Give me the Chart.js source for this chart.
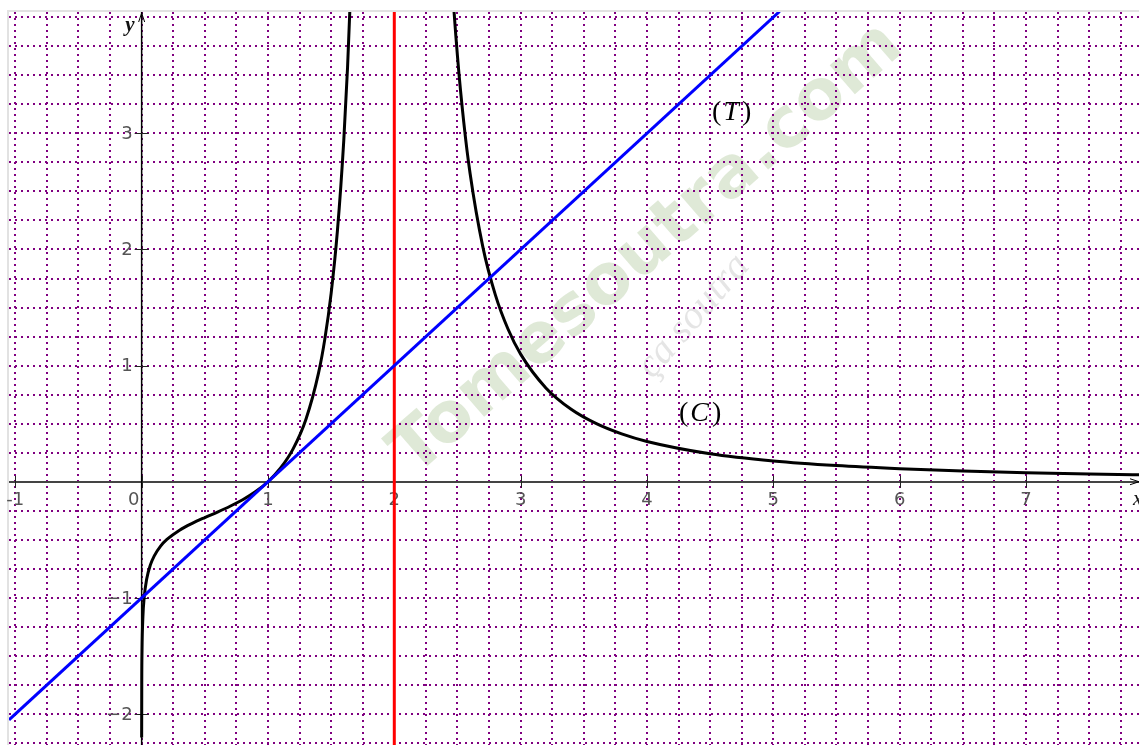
<!DOCTYPE html>
<html>
<head>
<meta charset="utf-8">
<script src="https://cdn.jsdelivr.net/npm/chart.js@4.4.1/dist/chart.umd.min.js"></script>
<style>
html,body{margin:0;padding:0;background:#fff;}
#wrap{position:relative;width:1139px;height:745px;}
</style>
</head>
<body>
<div id="wrap"><canvas id="c" width="1139" height="745"></canvas></div>
<script>
// ---- data ----
const curveLeftX  = [0.00015, 0.001, 0.003, 0.01, 0.02, 0.04, 0.07, 0.1, 0.15, 0.2, 0.3, 0.4, 0.5, 0.6, 0.7, 0.8, 0.9, 1.0, 1.1, 1.2, 1.3, 1.4, 1.45, 1.5, 1.55, 1.6, 1.63, 1.66, 1.7];
const curveLeftY  = [-2.202, -1.729, -1.457, -1.163, -0.998, -0.838, -0.714, -0.638, -0.554, -0.497, -0.417, -0.358, -0.308, -0.261, -0.211, -0.155, -0.087, 0, 0.118, 0.285, 0.536, 0.935, 1.228, 1.622, 2.164, 2.938, 3.569, 4.384, 5.896];
const curveRightX = [2.4, 2.45, 2.5, 2.55, 2.6, 2.7, 2.8, 2.9, 3.0, 3.2, 3.4, 3.6, 3.8, 4.0, 4.5, 5.0, 5.5, 6.0, 6.5, 7.0, 7.5, 8.0];
const curveRightY = [5.472, 4.425, 3.665, 3.095, 2.654, 2.027, 1.609, 1.315, 1.099, 0.808, 0.624, 0.500, 0.412, 0.347, 0.241, 0.179, 0.139, 0.112, 0.092, 0.078, 0.067, 0.058];
const tangentX    = [-1.05, 5.05];
const tangentY    = [-2.05, 4.05];
const asymptoteX  = [2, 2];
const asymptoteY  = [-2.3, 4.1];
const xTickValues = [-1, 0, 1, 2, 3, 4, 5, 6, 7];
const xTickLabels = ["-1", "0", "1", "2", "3", "4", "5", "6", "7"];
const yTickValues = [-2, -1, 1, 2, 3];
const yTickLabels = ["\u22122", "\u22121", "1", "2", "3"];
const xRange = [-1.05, 7.895];
const yRange = [-2.267, 4.045];
const gridStep = 0.25;

function pts(xs, ys){ return xs.map((x,i)=>({x:x, y:ys[i]})); }
function gridTicks(min, max){
  const out = [];
  for (let k = Math.ceil(min/gridStep); k*gridStep <= max; k++) out.push({value: k*gridStep});
  return out;
}

const watermark = {
  id: 'watermark',
  beforeDraw(chart){
    const ctx = chart.ctx;
    ctx.save();
    ctx.fillStyle = '#ffffff';
    ctx.fillRect(0,0,chart.width,chart.height);
    // frame
    ctx.fillStyle = '#e2e2e2';
    ctx.fillRect(7, 10, 2, chart.height-10);
    ctx.fillRect(7, 10, chart.width-7, 2);
    // watermark
    ctx.translate(648, 250);
    ctx.rotate(-41*Math.PI/180);
    ctx.font = 'bold 70px "DejaVu Sans", "Liberation Sans", sans-serif';
    ctx.textAlign = 'center';
    ctx.textBaseline = 'middle';
    ctx.fillStyle = 'rgba(165,195,145,0.36)';
    ctx.fillText('Tomesoutra.com', 0, 0);
    ctx.rotate(-8*Math.PI/180);
    ctx.font = 'italic 40px "Liberation Serif", serif';
    ctx.fillStyle = 'rgba(160,160,160,0.28)';
    ctx.fillText('\u00e7a soutra', -20, 78);
    ctx.restore();
  }
};

const axesPlugin = {
  id: 'axesPlugin',
  beforeDatasetsDraw(chart){
    const ctx = chart.ctx, xs = chart.scales.x, ys = chart.scales.y, a = chart.chartArea;
    const x0 = xs.getPixelForValue(0), y0 = ys.getPixelForValue(0);
    ctx.save();
    // x axis
    ctx.strokeStyle = '#444';
    ctx.lineWidth = 2;
    ctx.beginPath(); ctx.moveTo(a.left, Math.round(y0)); ctx.lineTo(a.right, Math.round(y0)); ctx.stroke();
    // y axis
    ctx.strokeStyle = '#000';
    ctx.lineWidth = 1.5;
    ctx.beginPath(); ctx.moveTo(x0, a.top); ctx.lineTo(x0, a.bottom); ctx.stroke();
    // arrows
    ctx.lineWidth = 1;
    ctx.beginPath(); ctx.moveTo(x0-3, a.top+10); ctx.lineTo(x0, a.top+1); ctx.lineTo(x0+3, a.top+10); ctx.stroke();
    ctx.beginPath(); ctx.moveTo(a.right-9, y0-3); ctx.lineTo(a.right, y0); ctx.lineTo(a.right-9, y0+3); ctx.stroke();
    // ticks
    ctx.strokeStyle = '#222';
    ctx.lineWidth = 1;
    xTickValues.forEach(v => {
      const px = Math.round(xs.getPixelForValue(v)) + 0.5;
      ctx.beginPath(); ctx.moveTo(px, y0-6); ctx.lineTo(px, y0+6); ctx.stroke();
    });
    yTickValues.forEach(v => {
      const py = Math.round(ys.getPixelForValue(v)) + 0.5;
      ctx.beginPath(); ctx.moveTo(x0-7, py); ctx.lineTo(x0+7, py); ctx.stroke();
    });
    // labels
    ctx.fillStyle = '#555';
    ctx.font = '18px "DejaVu Sans", sans-serif';
    ctx.textBaseline = 'alphabetic';
    ctx.textAlign = 'center';
    xTickValues.forEach((v,i) => {
      let px = xs.getPixelForValue(v);
      if (v === 0) px -= 8;
      ctx.fillText(xTickLabels[i], px, y0 + 23);
    });
    ctx.textAlign = 'right';
    ctx.textBaseline = 'middle';
    yTickValues.forEach((v,i) => {
      ctx.fillText(yTickLabels[i], x0 - 9, ys.getPixelForValue(v) + 1);
    });
    // axis names
    ctx.fillStyle = '#111';
    ctx.font = 'bold italic 21px "Liberation Serif", serif';
    ctx.textAlign = 'right';
    ctx.textBaseline = 'alphabetic';
    ctx.fillText('y', x0 - 7, a.top + 19);
    ctx.textAlign = 'left';
    ctx.font = 'italic 21px "Liberation Serif", serif';
    ctx.fillText('x', a.right - 6, y0 + 23);
    ctx.restore();
  },
  afterDatasetsDraw(chart){
    const ctx = chart.ctx;
    ctx.save();
    ctx.fillStyle = '#000';
    ctx.textBaseline = 'alphabetic';
    ctx.textAlign = 'left';
    function lab(letter, x, y){
      ctx.font = '28px "Liberation Serif", serif';
      ctx.fillText('(', x, y);
      let w = ctx.measureText('(').width + 2;
      ctx.font = 'italic 28px "Liberation Serif", serif';
      ctx.fillText(letter, x + w, y);
      w += ctx.measureText(letter).width + 3;
      ctx.font = '28px "Liberation Serif", serif';
      ctx.fillText(')', x + w, y);
    }
    lab('T', 712, 120);
    lab('C', 679, 421);
    ctx.restore();
  }
};

const gridOpts = { color: '#800080', lineWidth: 2, drawTicks: false };
new Chart(document.getElementById('c'), {
  type: 'scatter',
  data: {
    datasets: [
      { data: pts(tangentX, tangentY), showLine: true, borderColor: '#0000ff', borderWidth: 3, pointRadius: 0, order: 0 },
      { data: pts(curveLeftX, curveLeftY), showLine: true, borderColor: '#000', borderWidth: 3, pointRadius: 0, cubicInterpolationMode: 'monotone', order: 1 },
      { data: pts(curveRightX, curveRightY), showLine: true, borderColor: '#000', borderWidth: 3, pointRadius: 0, cubicInterpolationMode: 'monotone', order: 1 },
      { data: pts(asymptoteX, asymptoteY), showLine: true, borderColor: '#ff0000', borderWidth: 3, pointRadius: 0, order: 2 }
    ]
  },
  options: {
    responsive: false,
    animation: false,
    devicePixelRatio: 1,
    layout: { padding: { left: 9, top: 12, right: 0, bottom: 0 } },
    plugins: { legend: { display: false }, tooltip: { enabled: false } },
    scales: {
      x: {
        type: 'linear', min: xRange[0], max: xRange[1],
        afterBuildTicks: s => { s.ticks = gridTicks(xRange[0], xRange[1]); },
        ticks: { display: false },
        grid: gridOpts,
        border: { display: false, dash: [2, 4] }
      },
      y: {
        type: 'linear', min: yRange[0], max: yRange[1],
        afterBuildTicks: s => { s.ticks = gridTicks(yRange[0], yRange[1]); },
        ticks: { display: false },
        grid: gridOpts,
        border: { display: false, dash: [2, 4] }
      }
    }
  },
  plugins: [watermark, axesPlugin]
});
</script>
</body>
</html>
